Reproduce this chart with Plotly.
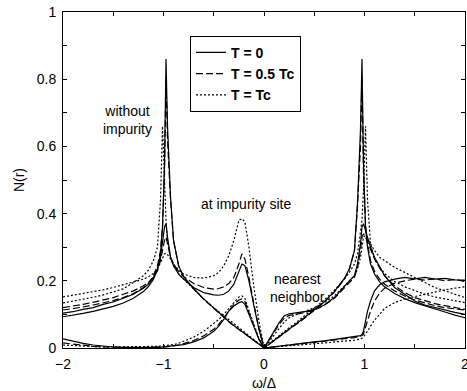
import plotly.graph_objects as go

# energy grid (omega / Delta)
omega = [
    -2.0, -1.9, -1.8, -1.7, -1.6, -1.5, -1.4, -1.3, -1.2, -1.15,
    -1.1, -1.06, -1.03, -1.01, -0.99, -0.975, -0.96, -0.93, -0.9, -0.85,
    -0.8, -0.7, -0.6, -0.5, -0.45, -0.4, -0.35, -0.3, -0.25, -0.22,
    -0.19, -0.15, -0.1, -0.05, 0.0, 0.05, 0.1, 0.15, 0.2, 0.25,
    0.3, 0.4, 0.5, 0.6, 0.7, 0.8, 0.85, 0.9, 0.93, 0.96,
    0.975, 0.99, 1.01, 1.03, 1.06, 1.1, 1.15, 1.2, 1.3, 1.4,
    1.5, 1.6, 1.7, 1.8, 1.9, 2.0,
]

# without impurity
clean_T0 = [
    0.093, 0.097, 0.103, 0.109, 0.116, 0.124, 0.134, 0.148, 0.168, 0.183,
    0.205, 0.235, 0.28, 0.36, 0.55, 0.86, 0.66, 0.45, 0.32, 0.245,
    0.212, 0.177, 0.146, 0.118, 0.105, 0.091, 0.079, 0.067, 0.056, 0.049,
    0.043, 0.034, 0.022, 0.011, 0.0, 0.011, 0.022, 0.034, 0.044, 0.055,
    0.066, 0.09, 0.114, 0.138, 0.168, 0.207, 0.236, 0.29, 0.43, 0.65,
    0.86, 0.55, 0.36, 0.3, 0.25, 0.22, 0.197, 0.182, 0.162, 0.147,
    0.135, 0.125, 0.116, 0.107, 0.098, 0.09,
]
clean_T05 = [
    0.113, 0.117, 0.122, 0.128, 0.134, 0.141, 0.15, 0.162, 0.18, 0.193,
    0.215, 0.245, 0.29, 0.36, 0.52, 0.8, 0.62, 0.44, 0.32, 0.245,
    0.212, 0.176, 0.145, 0.117, 0.104, 0.09, 0.078, 0.066, 0.055, 0.048,
    0.042, 0.033, 0.022, 0.011, 0.001, 0.011, 0.022, 0.033, 0.043, 0.054,
    0.065, 0.088, 0.112, 0.137, 0.166, 0.205, 0.235, 0.29, 0.42, 0.6,
    0.8, 0.52, 0.37, 0.31, 0.26, 0.228, 0.205, 0.19, 0.17, 0.155,
    0.143, 0.134, 0.126, 0.12, 0.116, 0.113,
]
clean_Tc = [
    0.134, 0.139, 0.145, 0.151, 0.158, 0.166, 0.176, 0.195, 0.215, 0.232,
    0.26, 0.3, 0.44, 0.66, 0.47, 0.38, 0.32, 0.27, 0.245, 0.222,
    0.205, 0.175, 0.146, 0.12, 0.108, 0.096, 0.083, 0.071, 0.06, 0.053,
    0.046, 0.037, 0.025, 0.013, 0.002, 0.013, 0.025, 0.037, 0.048, 0.06,
    0.071, 0.095, 0.118, 0.143, 0.172, 0.205, 0.225, 0.25, 0.28, 0.34,
    0.38, 0.47, 0.66, 0.44, 0.31, 0.265, 0.24, 0.222, 0.198, 0.182,
    0.17, 0.16, 0.152, 0.146, 0.14, 0.135,
]

# at impurity site
site_T0 = [
    0.104, 0.108, 0.115, 0.12, 0.13, 0.137, 0.148, 0.16, 0.178, 0.19,
    0.21, 0.235, 0.27, 0.32, 0.36, 0.37, 0.33, 0.27, 0.245, 0.22,
    0.205, 0.18, 0.165, 0.158, 0.157, 0.16, 0.17, 0.19, 0.225, 0.25,
    0.245, 0.2, 0.125, 0.055, 0.0, 0.002, 0.004, 0.006, 0.008, 0.01,
    0.011, 0.014, 0.018, 0.021, 0.025, 0.029, 0.031, 0.033, 0.035, 0.037,
    0.04, 0.05, 0.08, 0.11, 0.14, 0.17, 0.188, 0.197, 0.205, 0.21,
    0.206, 0.21, 0.205, 0.207, 0.203, 0.202,
]
site_T05 = [
    0.12, 0.124, 0.13, 0.136, 0.143, 0.15, 0.16, 0.17, 0.185, 0.195,
    0.21, 0.23, 0.26, 0.29, 0.32, 0.33, 0.31, 0.27, 0.25, 0.228,
    0.213, 0.192, 0.18, 0.175, 0.177, 0.182, 0.192, 0.21, 0.25, 0.28,
    0.265, 0.21, 0.13, 0.058, 0.0, 0.002, 0.004, 0.006, 0.008, 0.009,
    0.011, 0.014, 0.017, 0.02, 0.024, 0.027, 0.029, 0.031, 0.033, 0.035,
    0.037, 0.042, 0.06, 0.085, 0.11, 0.14, 0.163, 0.178, 0.193, 0.2,
    0.205, 0.202, 0.206, 0.2, 0.204, 0.198,
]
site_Tc = [
    0.152, 0.157, 0.162, 0.167, 0.173, 0.18, 0.188, 0.196, 0.205, 0.212,
    0.222, 0.235, 0.255, 0.27, 0.28, 0.282, 0.278, 0.265, 0.25, 0.232,
    0.22, 0.21, 0.208, 0.215, 0.225, 0.245, 0.275, 0.32, 0.38, 0.385,
    0.375, 0.3, 0.18, 0.08, 0.0, 0.002, 0.003, 0.005, 0.006, 0.008,
    0.009, 0.011, 0.013, 0.015, 0.018, 0.02, 0.022, 0.023, 0.025, 0.027,
    0.029, 0.033, 0.04, 0.05, 0.065, 0.083, 0.1, 0.118, 0.135, 0.146,
    0.153, 0.16, 0.168, 0.173, 0.178, 0.182,
]

# nearest neighbor
nn_T0 = [
    0.027, 0.02, 0.014, 0.009, 0.005, 0.003, 0.002, 0.001, 0.001, 0.001,
    0.001, 0.001, 0.002, 0.002, 0.002, 0.003, 0.003, 0.004, 0.005, 0.007,
    0.01, 0.018, 0.03, 0.05, 0.065, 0.085, 0.11, 0.125, 0.135, 0.138,
    0.13, 0.1, 0.06, 0.025, 0.0, 0.025, 0.05, 0.075, 0.095, 0.102,
    0.104, 0.108, 0.115, 0.128, 0.15, 0.185, 0.2, 0.215, 0.25, 0.31,
    0.36, 0.37, 0.35, 0.33, 0.3, 0.27, 0.24, 0.215, 0.18, 0.16,
    0.14, 0.128, 0.12, 0.113, 0.106, 0.1,
]
nn_T05 = [
    0.015, 0.011, 0.008, 0.005, 0.003, 0.002, 0.002, 0.002, 0.002, 0.002,
    0.002, 0.003, 0.003, 0.003, 0.004, 0.004, 0.004, 0.005, 0.006, 0.009,
    0.013, 0.022, 0.036, 0.056, 0.07, 0.09, 0.112, 0.13, 0.143, 0.146,
    0.138, 0.105, 0.063, 0.026, 0.0, 0.023, 0.047, 0.07, 0.088, 0.097,
    0.1, 0.105, 0.113, 0.127, 0.148, 0.18, 0.195, 0.21, 0.24, 0.29,
    0.33, 0.34, 0.33, 0.315, 0.29, 0.265, 0.238, 0.215, 0.185, 0.165,
    0.15, 0.14, 0.132, 0.126, 0.12, 0.115,
]
nn_Tc = [
    0.009, 0.007, 0.005, 0.004, 0.003, 0.003, 0.003, 0.003, 0.004, 0.004,
    0.005, 0.005, 0.006, 0.006, 0.007, 0.007, 0.008, 0.009, 0.01, 0.014,
    0.02, 0.032, 0.05, 0.072, 0.085, 0.1, 0.118, 0.137, 0.152, 0.155,
    0.147, 0.112, 0.068, 0.028, 0.0, 0.02, 0.04, 0.06, 0.077, 0.09,
    0.097, 0.108, 0.12, 0.135, 0.155, 0.185, 0.2, 0.215, 0.235, 0.27,
    0.3, 0.33, 0.335, 0.325, 0.31, 0.29, 0.27, 0.26, 0.24, 0.225,
    0.21, 0.195, 0.18, 0.17, 0.16, 0.15,
]

legend_names = ["T = 0", "T = 0.5 Tc", "T = Tc"]
dash_styles = ["solid", "7px,3px", "2px,2px"]

groups = [
    [clean_T0, clean_T05, clean_Tc],
    [site_T0, site_T05, site_Tc],
    [nn_T0, nn_T05, nn_Tc],
]

fig = go.Figure()
for gi, grp in enumerate(groups):
    for ti, ys in enumerate(grp):
        fig.add_trace(go.Scatter(
            x=omega, y=ys, mode="lines",
            name=legend_names[ti],
            legendgroup=legend_names[ti],
            showlegend=(gi == 0),
            line=dict(color="black", width=1.2, dash=dash_styles[ti]),
        ))

font_family = "Liberation Sans, Arial, Helvetica, sans-serif"

fig.update_layout(
    width=467, height=391,
    margin=dict(l=63, r=2, t=12, b=43, autoexpand=False),
    paper_bgcolor="white", plot_bgcolor="white",
    font=dict(family=font_family, size=14, color="black"),
    showlegend=True,
    legend=dict(
        x=0.316, y=0.929, xanchor="left", yanchor="top",
        bordercolor="black", borderwidth=1, bgcolor="white",
        font=dict(family=font_family, size=14, color="black", weight="bold"),
        itemwidth=30, tracegroupgap=0,
    ),
)

fig.update_xaxes(
    range=[-2, 2], tickvals=[-2, -1, 0, 1, 2],
    automargin=False,
    ticks="inside", ticklen=4, tickcolor="black",
    ticklabeloverflow="allow", ticklabelstandoff=3,
    minor=dict(dtick=0.5, ticks="inside", ticklen=4, tickcolor="black"),
    showline=True, linecolor="black", linewidth=1, mirror="allticks",
    showgrid=False, zeroline=False,
    title=dict(text="ω/Δ", standoff=8, font=dict(size=14)),
)
fig.update_yaxes(
    range=[0, 1], dtick=0.2,
    automargin=False,
    ticks="inside", ticklen=4, tickcolor="black",
    ticklabeloverflow="allow", ticklabelstandoff=3,
    minor=dict(dtick=0.1, ticks="inside", ticklen=4, tickcolor="black"),
    showline=True, linecolor="black", linewidth=1, mirror="allticks",
    showgrid=False, zeroline=False,
    title=dict(text="N(r)", standoff=8, font=dict(size=14)),
)

notes = [
    ("without<br>impurity", -1.36, 0.68),
    ("at impurity site", -0.18, 0.43),
    ("nearest<br>neighbor", 0.33, 0.18),
]
for txt, ax_, ay_ in notes:
    fig.add_annotation(x=ax_, y=ay_, text=txt, showarrow=False,
                       font=dict(size=14, color="black"), align="center")

fig.write_html("out.html")
